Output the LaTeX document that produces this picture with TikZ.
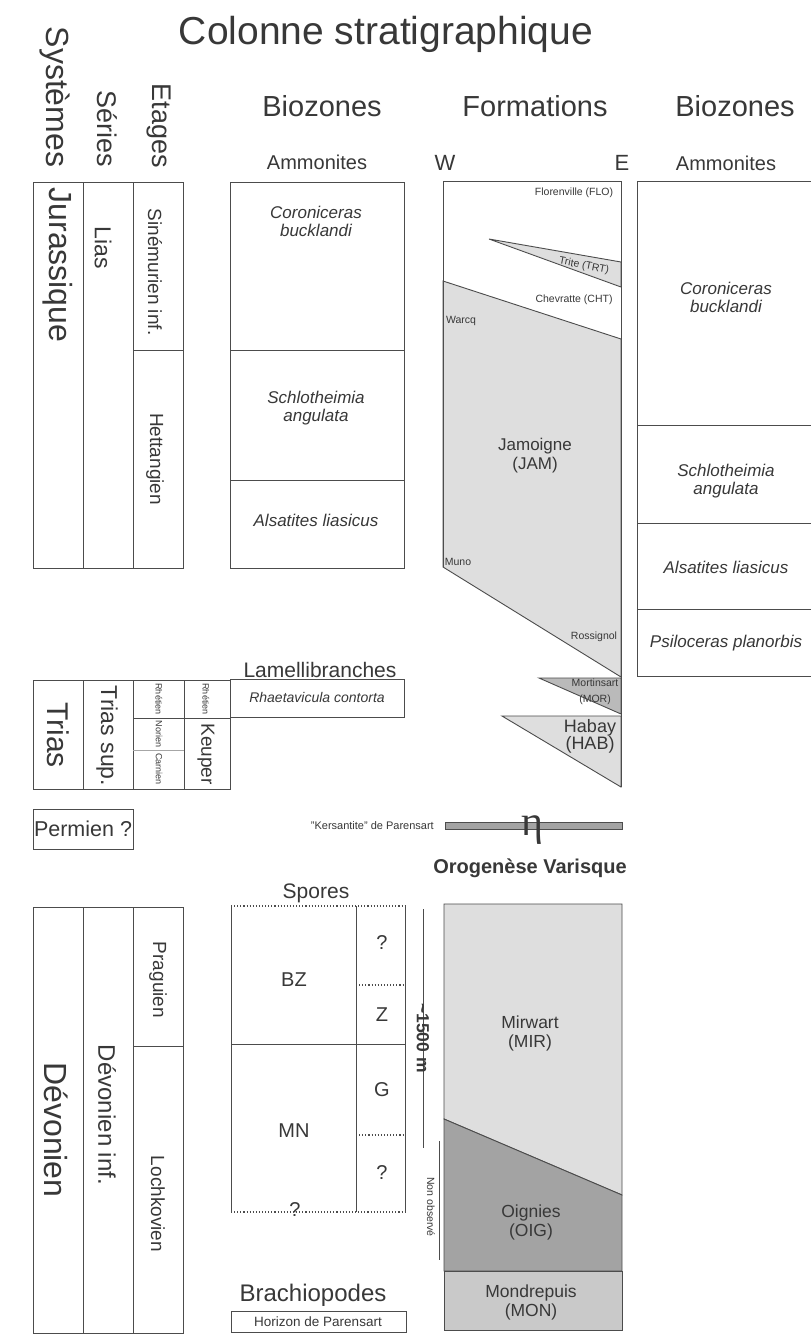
\documentclass[tikz,border=0pt]{standalone}
\usepackage{amsmath}
\usepackage{fontspec}
\setmainfont{Liberation Sans}
\newfontfamily\etaFont{Liberation Serif}
\usepackage{tikz}
\usetikzlibrary{positioning}
\definecolor{inkColor}{rgb}{0.22,0.22,0.22}
\definecolor{lineColor}{rgb}{0.30,0.30,0.30}
\definecolor{paleGrey}{rgb}{0.87,0.87,0.87}
\definecolor{midGrey}{rgb}{0.73,0.73,0.73}
\definecolor{darkGrey}{rgb}{0.64,0.64,0.64}
\definecolor{monGrey}{rgb}{0.79,0.79,0.79}
\newcommand*\sz[1]{\fontsize{#1}{#1}\selectfont}

\begin{document}
\begin{tikzpicture}[x=1pt,y=-1pt]

  \tikzstyle{normalText} = [text=inkColor, inner sep=0pt];
  \tikzstyle{vertText} = [normalText, rotate=-90];
  \tikzstyle{zoneText} = [normalText, font=\fontsize{17}{18}\selectfont\itshape, align=center];
  \tikzstyle{smallText} = [normalText, font=\sz{10.5}];
  \tikzstyle{formText} = [normalText, font=\fontsize{17.5}{19}\selectfont, align=center];
  \tikzstyle{sporeText} = [normalText, font=\sz{20}];

  \tikzstyle{normalEdge} = [draw=lineColor, line width=0.9pt];
  \tikzstyle{thinEdge} = [draw=lineColor!50, line width=0.6pt];
  \tikzstyle{dotEdge} = [draw=lineColor, line width=1.1pt, dotted];
  \tikzstyle{paleLayer} = [fill=paleGrey, normalEdge];
  \tikzstyle{midLayer} = [fill=midGrey, normalEdge];
  \tikzstyle{darkLayer} = [fill=darkGrey, normalEdge];
  \tikzstyle{monLayer} = [fill=monGrey, normalEdge];

  \useasboundingbox[fill=white] (0,0) rectangle (811,1336);

  % titles
  \node[normalText, font=\sz{39}] (title) at (386,34) {Colonne stratigraphique};
  \node[vertText, font=\sz{32}] (systemes) at (55,97) {Systèmes};
  \node[vertText, font=\sz{27}] (series) at (107,129) {Séries};
  \node[vertText, font=\sz{27}] (etages) at (159,126) {Etages};
  \node[normalText, font=\sz{29}] (biozonesL) at (322,106) {Biozones};
  \node[normalText, font=\sz{29}] (formations) at (535,106) {Formations};
  \node[normalText, font=\sz{29}] (biozonesR) at (735,106) {Biozones};
  \node[normalText, font=\sz{20}] (ammonitesL) at (317,162) {Ammonites};
  \node[normalText, font=\sz{22}] (west) at (445,163) {W};
  \node[normalText, font=\sz{22}] (east) at (622,163) {E};
  \node[normalText, font=\sz{20}] (ammonitesR) at (726,163) {Ammonites};

  % Jurassique
  \draw[normalEdge] (33,182) rectangle (183,568);
  \draw[normalEdge] (83,182) -- (83,568);
  \draw[normalEdge] (133,182) -- (133,568);
  \draw[normalEdge] (133,350) -- (183,350);
  \node[vertText, font=\sz{32}] (jurassique) at (58,265) {Jurassique};
  \node[vertText, font=\sz{23}] (lias) at (103,248) {Lias};
  \node[vertText, font=\sz{19}] (sinemurien) at (155,272) {Sinémurien inf.};
  \node[vertText, font=\sz{19}] (hettangien) at (155,459) {Hettangien};

  \draw[normalEdge] (230,182) rectangle (404,568);
  \draw[normalEdge] (230,350) -- (404,350);
  \draw[normalEdge] (230,480) -- (404,480);
  \node[zoneText] (corL) at (316,221) {Coroniceras\\bucklandi};
  \node[zoneText] (schL) at (316,408) {Schlotheimia\\angulata};
  \node[zoneText] (alsL) at (316,520) {Alsatites liasicus};

  % formations du Lias
  \draw[paleLayer] (489,239) -- (621,262) -- (621,287) -- cycle;
  \draw[paleLayer] (443,281) -- (621,339) -- (621,677) -- (443,567) -- cycle;
  \draw[midLayer] (539,678) -- (621,678) -- (621,714) -- cycle;
  \draw[paleLayer] (502,716) -- (621,716) -- (621,787) -- cycle;
  \draw[normalEdge] (443,567) -- (443,181) -- (621,181) -- (621,787);
  \node[smallText] (flo) at (574,193) {Florenville (FLO)};
  \node[smallText, rotate=-11] (trt) at (584,266) {Trite (TRT)};
  \node[smallText] (cht) at (574,300) {Chevratte (CHT)};
  \node[smallText] (warcq) at (461,321) {Warcq};
  \node[normalText, font=\fontsize{17}{19}\selectfont, align=center] (jam) at (535,456) {Jamoigne\\(JAM)};
  \node[smallText] (muno) at (458,562) {Muno};
  \node[smallText] (rossignol) at (594,637) {Rossignol};
  \node[normalText, font=\fontsize{10.5}{16}\selectfont, align=center] (mor) at (595,692) {Mortinsart\\(MOR)};
  \node[normalText, font=\fontsize{18}{17}\selectfont, align=center] (hab) at (590,736) {Habay\\(HAB)};

  % Biozones de droite
  \draw[normalEdge] (811,181) -- (637,181) -- (637,676) -- (811,676);
  \draw[normalEdge] (637,425) -- (811,425);
  \draw[normalEdge] (637,523) -- (811,523);
  \draw[normalEdge] (637,609) -- (811,609);
  \node[zoneText] (corR) at (726,297) {Coroniceras\\bucklandi};
  \node[zoneText] (schR) at (726,481) {Schlotheimia\\angulata};
  \node[zoneText] (alsR) at (726,567) {Alsatites liasicus};
  \node[zoneText] (psiR) at (726,643) {Psiloceras planorbis};

  % Trias
  \draw[normalEdge] (33,680) rectangle (230,789);
  \draw[normalEdge] (83,680) -- (83,789);
  \draw[normalEdge] (133,680) -- (133,789);
  \draw[normalEdge] (184,680) -- (184,789);
  \draw[normalEdge] (133,718) -- (230,718);
  \draw[thinEdge] (133,750) -- (184,750);
  \node[vertText, font=\sz{30}] (trias) at (58,735) {Trias};
  \node[vertText, font=\sz{23}] (triasSup) at (107,736) {Trias sup.};
  \node[vertText, font=\sz{9}] (rhetienA) at (159,699) {Rhétien};
  \node[vertText, font=\sz{9}] (norien) at (159,734) {Norien};
  \node[vertText, font=\sz{9}] (carnien) at (159,769) {Carnien};
  \node[vertText, font=\sz{9}] (rhetienB) at (206,699) {Rhétien};
  \node[vertText, font=\sz{19}] (keuper) at (206,754) {Keuper};

  \node[normalText, font=\sz{21}] (lamelli) at (320,670) {Lamellibranches};
  \draw[normalEdge] (230,679) rectangle (404,717);
  \node[zoneText, font=\sz{14}\itshape] (rhaeta) at (317,697) {Rhaetavicula contorta};

  % Permien
  \draw[normalEdge] (33,809) rectangle (133,849);
  \node[normalText, font=\sz{21.5}] (permien) at (83,829) {Permien ?};
  \draw[darkLayer] (445,822) rectangle (622,829);
  \node[normalText, font=\sz{11}, anchor=east] (kersantite) at (434,826) {"Kersantite" de Parensart};
  \node[normalText, font=\sz{42}\etaFont] (eta) at (532,830) {η};
  \node[normalText, font=\sz{20}\bfseries] (orogenese) at (530,868) {Orogenèse Varisque};

  % Devonien
  \draw[normalEdge] (33,907) rectangle (183,1333);
  \draw[normalEdge] (83,907) -- (83,1333);
  \draw[normalEdge] (133,907) -- (133,1333);
  \draw[normalEdge] (133,1046) -- (183,1046);
  \node[vertText, font=\sz{32}] (devonien) at (56,1130) {Dévonien};
  \node[vertText, font=\sz{24}] (devonienInf) at (107,1115) {Dévonien inf.};
  \node[vertText, font=\sz{19}] (praguien) at (158,980) {Praguien};
  \node[vertText, font=\sz{19}] (lochkovien) at (158,1204) {Lochkovien};

  \node[normalText, font=\sz{21}] (spores) at (316,893) {Spores};
  \draw[normalEdge] (231,906) -- (231,1212);
  \draw[normalEdge] (356,906) -- (356,1212);
  \draw[normalEdge] (405,906) -- (405,1212);
  \draw[dotEdge] (231,906) -- (405,906);
  \draw[dotEdge] (231,1212) -- (405,1212);
  \draw[normalEdge] (231,1044) -- (405,1044);
  \draw[dotEdge] (356,985) -- (405,985);
  \draw[dotEdge] (356,1135) -- (405,1135);
  \node[sporeText] (bz) at (294,980) {BZ};
  \node[sporeText] (mn) at (294,1131) {MN};
  \node[sporeText] (qA) at (382,943) {?};
  \node[sporeText] (zz) at (382,1015) {Z};
  \node[sporeText] (gg) at (382,1090) {G};
  \node[sporeText] (qB) at (382,1173) {?};
  \node[sporeText] (qC) at (295,1210) {?};

  \coordinate (scaleTop) at (423,909);
  \coordinate (scaleBot) at (423,1148);
  \draw[normalEdge] (scaleTop) -- (scaleBot);
  \node[vertText, font=\sz{17.5}\bfseries] (scale) at (423,1038) {\textasciitilde1500 m};
  \coordinate (nonTop) at (439,1141);
  \coordinate (nonBot) at (439,1260);
  \draw[normalEdge] (nonTop) -- (nonBot);
  \node[vertText, font=\sz{10.5}] (nonObs) at (431,1207) {Non observé};

  \draw[paleLayer] (444,904) -- (622,904) -- (622,1195) -- (444,1119) -- cycle;
  \draw[darkLayer] (444,1119) -- (622,1195) -- (622,1271) -- (444,1271) -- cycle;
  \draw[monLayer] (444,1271) rectangle (622,1330);
  \node[formText] (mir) at (530,1033) {Mirwart\\(MIR)};
  \node[formText] (oig) at (531,1222) {Oignies\\(OIG)};
  \node[formText] (mon) at (531,1302) {Mondrepuis\\(MON)};

  \node[normalText, font=\sz{24}] (brachio) at (313,1295) {Brachiopodes};
  \draw[normalEdge] (231,1311) rectangle (406,1332);
  \node[normalText, font=\sz{13.5}] (horizon) at (318,1322) {Horizon de Parensart};

\end{tikzpicture}
\end{document}
